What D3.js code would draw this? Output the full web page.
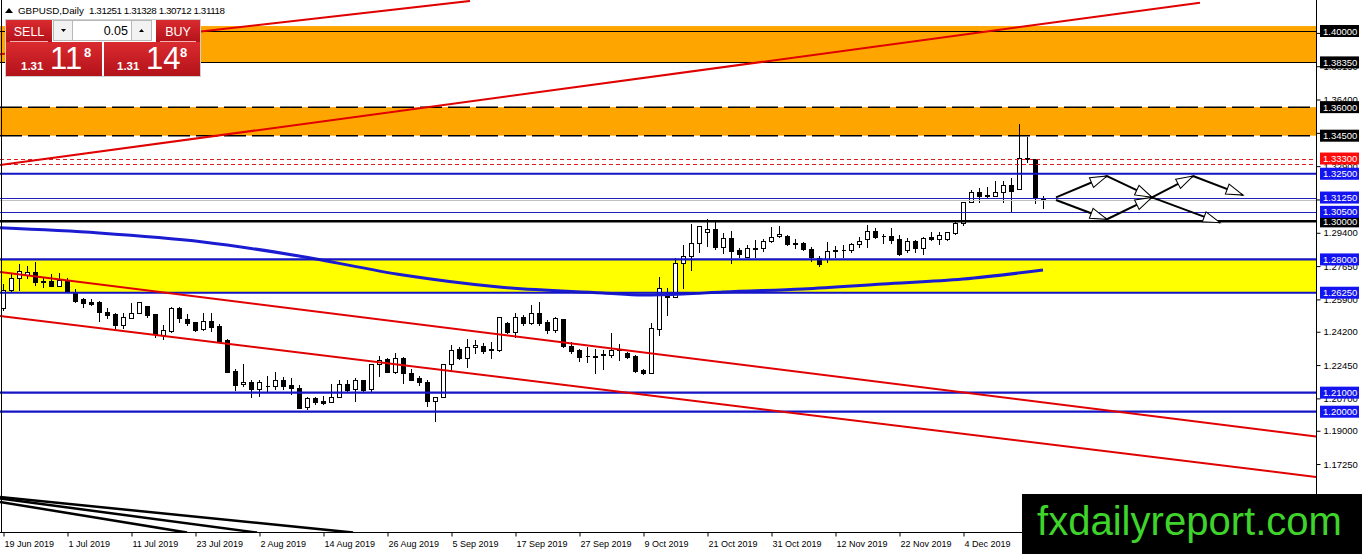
<!DOCTYPE html>
<html>
<head>
<meta charset="utf-8">
<script src="https://cdn.jsdelivr.net/npm/d3@7"></script>
<style>
  html, body { margin: 0; padding: 0; background: #fff; }
  svg { display: block; font-family: "Liberation Sans", Arial, sans-serif; }
</style>
</head>
<body>
<svg id="chart" width="1362" height="554"></svg>
<script>
// DATA
const tickLabels = ["19 Jun 2019", "1 Jul 2019", "11 Jul 2019", "23 Jul 2019", "2 Aug 2019", "14 Aug 2019",
  "26 Aug 2019", "5 Sep 2019", "17 Sep 2019", "27 Sep 2019", "9 Oct 2019", "21 Oct 2019", "31 Oct 2019",
  "12 Nov 2019", "22 Nov 2019", "4 Dec 2019"];
const tickBars = [0, 8, 16, 24, 32, 40, 48, 56, 64, 72, 80, 88, 96, 104, 112, 120];

const opens = [1.2543,1.2639,1.2704,1.2718,1.2732,1.2686,1.2686,1.2662,1.2686,1.2630,
  1.2590,1.2574,1.2578,1.2525,1.2515,1.2455,1.2494,1.2516,1.2557,1.2515,
  1.2403,1.2424,1.2546,1.2487,1.2473,1.2434,1.2476,1.2452,1.2376,1.2213,
  1.2143,1.2154,1.2119,1.2136,1.2136,1.2166,1.2138,1.2127,1.2026,1.2070,
  1.2056,1.2049,1.2075,1.2143,1.2117,1.2166,1.2117,1.2250,1.2275,1.2210,
  1.2280,1.2201,1.2175,1.2154,1.2057,1.2075,1.2250,1.2332,1.2280,1.2338,
  1.2345,1.2327,1.2324,1.2467,1.2420,1.2499,1.2464,1.2516,1.2473,1.2429,
  1.2485,1.2345,1.2324,1.2292,1.2294,1.2300,1.2296,1.2326,1.2310,1.2292,
  1.2219,1.2201,1.2432,1.2613,1.2604,1.2779,1.2819,1.2884,1.2942,1.2958,
  1.2867,1.2910,1.2849,1.2814,1.2857,1.2858,1.2896,1.2923,1.2923,1.2883,
  1.2884,1.2853,1.2809,1.2800,1.2845,1.2848,1.2849,1.2881,1.2905,1.2951,
  1.2922,1.2923,1.2907,1.2849,1.2896,1.2858,1.2917,1.2907,1.2907,1.2937,
  1.2989,1.3100,1.3156,1.3138,1.3135,1.3152,1.3191,1.3170,1.3332,1.3327,
  1.31251];
const highs = [1.2669,1.2727,1.2774,1.2767,1.2784,1.2704,1.2721,1.2727,1.2700,1.2644,
  1.2595,1.2590,1.2583,1.2543,1.2516,1.2516,1.2569,1.2574,1.2557,1.2515,
  1.2455,1.2551,1.2551,1.2511,1.2473,1.2516,1.2516,1.2459,1.2381,1.2222,
  1.2250,1.2169,1.2166,1.2187,1.2206,1.2180,1.2175,1.2140,1.2075,1.2078,
  1.2085,1.2148,1.2169,1.2166,1.2175,1.2169,1.2250,1.2292,1.2280,1.2310,
  1.2289,1.2222,1.2187,1.2166,1.2075,1.2250,1.2350,1.2341,1.2380,1.2376,
  1.2362,1.2367,1.2499,1.2473,1.2520,1.2508,1.2560,1.2578,1.2481,1.2495,
  1.2488,1.2367,1.2332,1.2338,1.2332,1.2324,1.2411,1.2355,1.2315,1.2297,
  1.2222,1.2464,1.2709,1.2651,1.2805,1.2875,1.2984,1.2977,1.3012,1.2998,
  1.2940,1.2951,1.2858,1.2875,1.2902,1.2905,1.2972,1.2975,1.2928,1.2905,
  1.2889,1.2867,1.2818,1.2893,1.2870,1.2875,1.2888,1.2919,1.2981,1.2963,
  1.2931,1.2966,1.2928,1.2910,1.2902,1.2919,1.2945,1.2942,1.2945,1.2995,
  1.3100,1.3164,1.3177,1.3182,1.3212,1.3212,1.3229,1.3510,1.3445,1.3327,
  1.31328];
const lows = [1.2534,1.2630,1.2639,1.2700,1.2665,1.2656,1.2662,1.2662,1.2630,1.2578,
  1.2551,1.2560,1.2478,1.2494,1.2441,1.2441,1.2494,1.2516,1.2499,1.2394,
  1.2380,1.2420,1.2473,1.2455,1.2424,1.2429,1.2424,1.2371,1.2210,1.2113,
  1.2134,1.2075,1.2085,1.2105,1.2119,1.2119,1.2091,1.2017,1.2012,1.2040,
  1.2043,1.2049,1.2075,1.2110,1.2057,1.2110,1.2105,1.2189,1.2210,1.2201,
  1.2152,1.2166,1.2140,1.2029,1.1952,1.2075,1.2219,1.2275,1.2233,1.2306,
  1.2306,1.2280,1.2320,1.2415,1.2394,1.2455,1.2460,1.2455,1.2411,1.2420,
  1.2341,1.2306,1.2268,1.2262,1.2201,1.2222,1.2289,1.2271,1.2280,1.2210,
  1.2198,1.2201,1.2403,1.2507,1.2600,1.2651,1.2744,1.2837,1.2872,1.2854,
  1.2835,1.2783,1.2814,1.2811,1.2814,1.2846,1.2893,1.2919,1.2875,1.2858,
  1.2849,1.2793,1.2765,1.2788,1.2814,1.2814,1.2840,1.2867,1.2867,1.2910,
  1.2884,1.2884,1.2823,1.2840,1.2840,1.2831,1.2902,1.2879,1.2902,1.2931,
  1.2980,1.3100,1.3100,1.3129,1.3135,1.3103,1.3051,1.3170,1.3313,1.3094,
  1.30712];
const closes = [1.2639,1.2704,1.2739,1.2732,1.2679,1.2684,1.2662,1.2692,1.2630,1.2583,
  1.2569,1.2565,1.2522,1.2508,1.2455,1.2497,1.2516,1.2574,1.2508,1.2406,
  1.2427,1.2543,1.2494,1.2464,1.2429,1.2476,1.2446,1.2371,1.2210,1.2140,
  1.2155,1.2119,1.2154,1.2137,1.2166,1.2136,1.2126,1.2021,1.2070,1.2052,
  1.2047,1.2075,1.2143,1.2113,1.2166,1.2113,1.2250,1.2271,1.2210,1.2280,
  1.2201,1.2169,1.2157,1.2057,1.2075,1.2250,1.2324,1.2280,1.2338,1.2350,
  1.2318,1.2322,1.2495,1.2420,1.2495,1.2464,1.2516,1.2467,1.2429,1.2490,
  1.2345,1.2320,1.2285,1.2293,1.2289,1.2302,1.2324,1.2328,1.2285,1.2215,
  1.2201,1.2438,1.2648,1.2603,1.2779,1.2819,1.2884,1.2977,1.2958,1.2867,
  1.2910,1.2846,1.2826,1.2858,1.2859,1.2896,1.2919,1.2933,1.2881,1.2885,
  1.2853,1.2811,1.2776,1.2846,1.2847,1.2850,1.2881,1.2898,1.2951,1.2919,
  1.2924,1.2902,1.2831,1.2896,1.2858,1.2914,1.2907,1.2928,1.2942,1.2989,
  1.3100,1.3156,1.3133,1.3133,1.3156,1.3191,1.3159,1.3331,1.3330,1.3121,
  1.31118];

// moving average read at a few bars
const maBars = [-0.375, 12, 25, 37, 50, 62, 75, 80, 85, 90, 100, 110, 120, 130];
const maValues = [1.2966, 1.2939, 1.2892, 1.2818, 1.2718, 1.2655, 1.2624, 1.2613, 1.2618, 1.2629, 1.2645, 1.2671, 1.2697, 1.2744];

const priceTicks = [1.399, 1.3815, 1.364, 1.3465, 1.329, 1.3115, 1.294, 1.2765, 1.259, 1.242, 1.2245, 1.207, 1.19, 1.1725, 1.155];

const orangeZones = [[1.4026, 1.3835], [1.3600, 1.3450]];
const yellowZone = [1.2800, 1.2625];

const blackLevels = [1.4000, 1.3835];
const dashedLevels = [1.3600, 1.3450];
const redDashedLevels = [1.3330, 1.3300];
const blueThickLevels = [1.3250, 1.2800, 1.2625, 1.2100, 1.2000];
const blueThinLevels = [1.3125, 1.3050];
const blackThickLevels = [1.3000];
const bidLevel = 1.31118;

const blackLabels = [1.4000, 1.3835, 1.3600, 1.3450, 1.3000];
const redLabels = [1.3330];
const blueLabels = [1.3250, 1.3125, 1.3050, 1.2800, 1.2625, 1.2100, 1.2000];

// trend lines as [bar, price] pairs
const redLines = [
  [[-0.375, 1.3296], [149.625, 1.4149]],
  [[-0.375, 1.3878], [58.375, 1.4158]],
  [[-0.375, 1.2734], [164.125, 1.1870]],
  [[-0.375, 1.2503], [164.125, 1.1657]]
];
const fanLines = [
  [[-0.375, 1.1552], [43.75, 1.1365]],
  [[-0.375, 1.1544], [31.75, 1.1365]],
  [[-0.375, 1.1526], [23.0, 1.1365]]
];
const arrowPaths = [
  [[131.625, 1.3126], [138, 1.3238], [143.625, 1.3126], [148.75, 1.3238], [155, 1.3138]],
  [[131.625, 1.3112], [138, 1.3011], [143.625, 1.3126], [152.125, 1.2993]]
];

// RENDER
const svg = d3.select("#chart");
const plotRight = 1316;
const plotBottom = 532.5;

const x = d3.scaleLinear().domain([0, 130]).range([3, 1043]);
const y = d3.scaleLinear().domain([1.2, 1.4]).range([411.7, 31]);
const px = v => Math.round(y(v)) + 0.5;

const defs = svg.append("defs");
defs.append("clipPath").attr("id", "plotClip")
  .append("rect").attr("x", 0).attr("y", 0).attr("width", plotRight).attr("height", plotBottom);

defs.append("marker")
  .attr("id", "hollow")
  .attr("markerUnits", "userSpaceOnUse")
  .attr("markerWidth", 20).attr("markerHeight", 14)
  .attr("viewBox", "-1 -1 19 12")
  .attr("refX", 16).attr("refY", 5)
  .attr("orient", "auto")
  .append("path")
  .attr("d", "M0,0 L16,5 L0,10 Z")
  .attr("fill", "#fff").attr("stroke", "#000").attr("stroke-width", 1);

const red = defs.append("linearGradient").attr("id", "redGrad").attr("x1", 0).attr("y1", 0).attr("x2", 0).attr("y2", 1);
red.append("stop").attr("offset", "0%").attr("stop-color", "#da2b2f");
red.append("stop").attr("offset", "100%").attr("stop-color", "#b3121a");

const plot = svg.append("g").attr("clip-path", "url(#plotClip)");

// zones
plot.selectAll(".orange").data(orangeZones).join("rect")
  .attr("x", 0).attr("width", plotRight)
  .attr("y", d => y(d[0])).attr("height", d => y(d[1]) - y(d[0]))
  .attr("fill", "#ffa500");
plot.append("rect")
  .attr("x", 0).attr("width", plotRight)
  .attr("y", y(yellowZone[0])).attr("height", y(yellowZone[1]) - y(yellowZone[0]))
  .attr("fill", "#ffff00");

// candles
const bars = opens.map((o, i) => ({ i, o, h: highs[i], l: lows[i], c: closes[i] }));
const cx = d => Math.round(x(d.i)) + 0.5;
const candles = plot.append("g").attr("shape-rendering", "crispEdges");
candles.selectAll(".wick").data(bars).join("line")
  .attr("x1", cx).attr("x2", cx)
  .attr("y1", d => Math.round(y(d.h))).attr("y2", d => Math.round(y(d.l)) + 1)
  .attr("stroke", "#000").attr("stroke-width", 1);
candles.selectAll(".body").data(bars).join("path")
  .attr("d", d => {
    const t = px(Math.max(d.o, d.c));
    const b = px(Math.min(d.o, d.c));
    return `M${cx(d) - 2},${t}h4v${b - t}h-4z`;
  })
  .attr("fill", d => d.c >= d.o ? "#fff" : "#000")
  .attr("stroke", "#000").attr("stroke-width", 1);

// moving average
const maData = maBars.map((b, i) => [b, maValues[i]]);
plot.append("path")
  .datum(maData)
  .attr("d", d3.line().x(d => x(d[0])).y(d => y(d[1])).curve(d3.curveMonotoneX))
  .attr("fill", "none").attr("stroke", "#1b1bd2").attr("stroke-width", 3);

// horizontal levels
const hline = (vals, stroke, width, dash, snap) => {
  plot.append("g").selectAll("line").data(vals).join("line")
    .attr("x1", 0).attr("x2", plotRight)
    .attr("y1", d => snap ? px(d) : y(d)).attr("y2", d => snap ? px(d) : y(d))
    .attr("stroke", stroke).attr("stroke-width", width)
    .attr("stroke-dasharray", dash);
};
hline([bidLevel], "#c0c0c0", 1, null, true);
hline(blackLevels, "#000", 1, null, true);
hline(dashedLevels, "#000", 1.5, "22,6", false);
hline(redDashedLevels, "#d81e1e", 1, "4,3", true);
hline(blueThinLevels, "#2020c0", 1, null, true);
hline(blueThickLevels, "#1515c4", 2.2, null, false);
hline(blackThickLevels, "#000", 2.5, null, false);

// trend lines
const seg = d3.line().x(d => x(d[0])).y(d => y(d[1]));
plot.append("g").selectAll("path").data(redLines).join("path")
  .attr("d", seg).attr("fill", "none").attr("stroke", "#e00000").attr("stroke-width", 2);
plot.append("g").selectAll("path").data(fanLines).join("path")
  .attr("d", seg).attr("fill", "none").attr("stroke", "#000").attr("stroke-width", 2.5);

// projection arrows
const arrowSegs = arrowPaths.flatMap(p => p.slice(1).map((pt, k) => [p[k], pt]));
plot.append("g").selectAll("path").data(arrowSegs).join("path")
  .attr("d", seg).attr("fill", "none").attr("stroke", "#000").attr("stroke-width", 2)
  .attr("marker-end", "url(#hollow)");

// frame lines
svg.append("line").attr("x1", 1.5).attr("x2", 1.5).attr("y1", 0).attr("y2", plotBottom)
  .attr("stroke", "#000");
svg.append("line").attr("x1", 0).attr("x2", plotRight + 0.5).attr("y1", plotBottom).attr("y2", plotBottom)
  .attr("stroke", "#000");
svg.append("line").attr("x1", plotRight + 0.5).attr("x2", plotRight + 0.5).attr("y1", 0).attr("y2", 554)
  .attr("stroke", "#000");

// price axis
const yAxis = svg.append("g")
  .attr("transform", `translate(${plotRight + 0.5},0)`)
  .call(d3.axisRight(y).tickValues(priceTicks).tickSize(4).tickPadding(3).tickFormat(d => d.toFixed(5)));
yAxis.select(".domain").remove();
yAxis.selectAll("text").attr("font-size", 9.5).attr("font-family", "Liberation Sans, Arial, sans-serif").attr("fill", "#000");
yAxis.selectAll("line").attr("stroke", "#000");

const labelBoxes = [
  ...blackLabels.map(v => ({ v, c: "#000" })),
  ...redLabels.map(v => ({ v, c: "#ff0a0a" })),
  ...blueLabels.map(v => ({ v, c: "#1414f0" }))
];
const lb = svg.append("g").selectAll("g").data(labelBoxes).join("g")
  .attr("transform", d => `translate(1320,${y(d.v)})`);
lb.append("rect").attr("x", 0).attr("y", -6).attr("width", 39).attr("height", 12).attr("fill", d => d.c);
lb.append("text").attr("x", 3).attr("y", 3.5).attr("font-size", 9.5).attr("fill", "#fff")
  .text(d => d.v.toFixed(5));

// time axis
const xAxis = svg.append("g")
  .attr("transform", `translate(0,${plotBottom})`)
  .call(d3.axisBottom(x).tickValues(tickBars).tickSize(4).tickFormat((d, i) => tickLabels[i]));
xAxis.select(".domain").remove();
xAxis.selectAll(".tick line").attr("stroke", "#000").attr("transform", "translate(0.5,0)");
xAxis.selectAll("text").attr("text-anchor", "start").attr("dx", 1).attr("y", 8)
  .attr("font-size", 9).attr("font-family", "Liberation Sans, Arial, sans-serif").attr("fill", "#000");

// header
const head = svg.append("g");
head.append("path").attr("d", "M5,13 L9,8 L13,13 Z").attr("fill", "#000");
head.append("text").attr("x", 18).attr("y", 14).attr("font-size", 9.8).attr("fill", "#000")
  .text("GBPUSD,Daily");
head.append("text").attr("x", 89).attr("y", 14).attr("font-size", 9.8).attr("fill", "#000")
  .attr("textLength", 136).attr("lengthAdjust", "spacing")
  .text(`${opens[130].toFixed(5)} ${highs[130].toFixed(5)} ${lows[130].toFixed(5)} ${closes[130].toFixed(5)}`);

// trading panel
const panel = svg.append("g");
panel.append("rect").attr("x", 5.5).attr("y", 19.5).attr("width", 195).attr("height", 57)
  .attr("fill", "#fff").attr("stroke", "#d0d0d0");
panel.append("rect").attr("x", 6).attr("y", 20).attr("width", 46).attr("height", 22).attr("fill", "url(#redGrad)");
panel.append("rect").attr("x", 156).attr("y", 20).attr("width", 44).attr("height", 22).attr("fill", "url(#redGrad)");
panel.append("rect").attr("x", 6).attr("y", 42).attr("width", 96).attr("height", 34).attr("fill", "url(#redGrad)");
panel.append("rect").attr("x", 104).attr("y", 42).attr("width", 96).attr("height", 34).attr("fill", "url(#redGrad)");
panel.append("line").attr("x1", 10).attr("x2", 48).attr("y1", 41.5).attr("y2", 41.5).attr("stroke", "#f4b0b0");
panel.append("line").attr("x1", 160).attr("x2", 196).attr("y1", 41.5).attr("y2", 41.5).attr("stroke", "#f4b0b0");
panel.append("rect").attr("x", 53.5).attr("y", 20.5).attr("width", 19).attr("height", 20)
  .attr("fill", "#f2f2f2").attr("stroke", "#b8b8b8");
panel.append("rect").attr("x", 72.5).attr("y", 20.5).attr("width", 59).attr("height", 20)
  .attr("fill", "#fff").attr("stroke", "#b8b8b8");
panel.append("rect").attr("x", 131.5).attr("y", 20.5).attr("width", 20).attr("height", 20)
  .attr("fill", "#f2f2f2").attr("stroke", "#b8b8b8");
panel.append("path").attr("d", "M61,29 L66,29 L63.5,32 Z").attr("fill", "#000");
panel.append("path").attr("d", "M139,32 L144,32 L141.5,29 Z").attr("fill", "#000");
panel.append("text").attr("x", 128).attr("y", 35).attr("text-anchor", "end").attr("font-size", 12.5)
  .attr("fill", "#000").text("0.05");
panel.append("text").attr("x", 29).attr("y", 35.5).attr("text-anchor", "middle").attr("font-size", 12.5)
  .attr("fill", "#fff").text("SELL");
panel.append("text").attr("x", 178).attr("y", 35.5).attr("text-anchor", "middle").attr("font-size", 12.5)
  .attr("fill", "#fff").text("BUY");

const quotes = [
  { x0: 21, big: "11" },
  { x0: 117, big: "14" }
];
const q = panel.selectAll(".quote").data(quotes).join("g").attr("transform", d => `translate(${d.x0},0)`);
q.append("text").attr("x", 0).attr("y", 70).attr("font-size", 11.5).attr("font-weight", "bold")
  .attr("fill", "#fff").text("1.31");
q.append("text").attr("x", 29).attr("y", 69).attr("font-size", 31)
  .attr("fill", "#fff").text(d => d.big);
q.append("text").attr("x", 63).attr("y", 57).attr("font-size", 13).attr("font-weight", "bold")
  .attr("fill", "#fff").text("8");

// watermark
svg.append("rect").attr("x", 1022).attr("y", 494).attr("width", 340).attr("height", 60).attr("fill", "#000");
svg.append("text").attr("x", 1037).attr("y", 535).attr("font-size", 40)
  .attr("textLength", 305).attr("lengthAdjust", "spacingAndGlyphs")
  .attr("fill", "#3fd42b").text("fxdailyreport.com");
</script>
</body>
</html>
